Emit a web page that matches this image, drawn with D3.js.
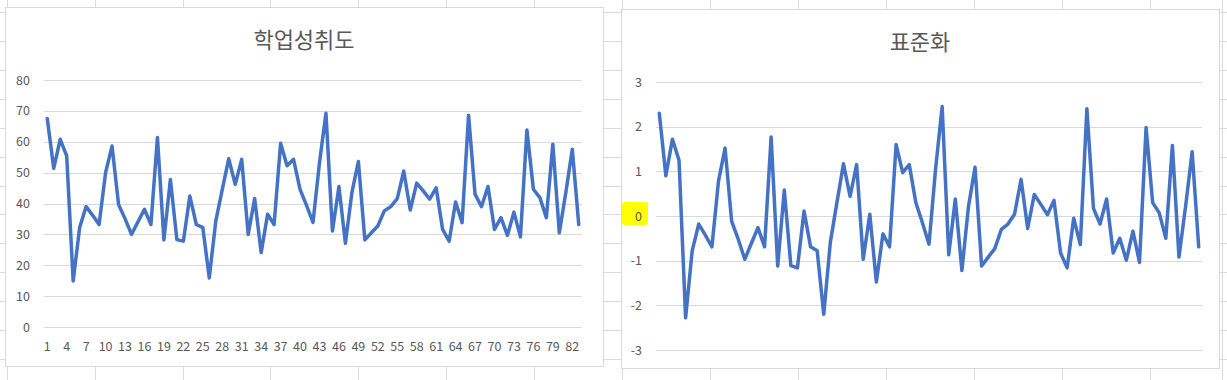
<!DOCTYPE html>
<html>
<head>
<meta charset="utf-8">
<script src="https://cdn.jsdelivr.net/npm/d3@7"></script>
<style>
  html, body { margin: 0; padding: 0; background: #ffffff; }
  svg { display: block; }
  text { font-family: "Noto Sans CJK KR", "Noto Sans", sans-serif; }
</style>
</head>
<body>
<svg id="chart" width="1227" height="380"></svg>
<script>
// ---------- DATA ----------
const categories = [1,2,3,4,5,6,7,8,9,10,11,12,13,14,15,16,17,18,19,20,21,22,23,24,25,26,27,28,29,30,
  31,32,33,34,35,36,37,38,39,40,41,42,43,44,45,46,47,48,49,50,51,52,53,54,55,56,57,58,59,60,
  61,62,63,64,65,66,67,68,69,70,71,72,73,74,75,76,77,78,79,80,81,82,83];

const achievement = [67.5,51.4,60.8,55.4,14.9,32.2,39.0,36.2,33.2,50.0,
  58.6,39.7,35.1,30.0,34.1,38.1,33.2,61.4,28.2,47.8,
  28.3,27.8,42.4,33.2,32.2,15.9,34.3,44.5,54.5,46.2,
  54.3,30.0,41.6,24.1,36.5,33.2,59.5,52.2,54.3,44.6,
  39.4,33.9,53.2,69.2,31.1,45.5,27.1,43.5,53.6,28.2,
  30.5,32.7,37.6,39.0,41.6,50.5,37.9,46.6,44.1,41.4,
  45.1,31.6,27.8,40.5,33.8,68.6,43.0,39.0,45.5,31.6,
  35.4,29.7,37.2,29.2,63.8,44.6,41.9,35.4,59.2,30.5,
  43.5,57.6,33.2];

const standardized = [2.30,0.90,1.72,1.25,-2.28,-0.78,-0.18,-0.43,-0.69,0.78,
  1.52,-0.12,-0.52,-0.97,-0.61,-0.26,-0.69,1.77,-1.12,0.58,
  -1.11,-1.16,0.11,-0.69,-0.78,-2.20,-0.59,0.30,1.17,0.44,
  1.15,-0.97,0.04,-1.48,-0.40,-0.69,1.60,0.97,1.15,0.30,
  -0.15,-0.63,1.05,2.45,-0.87,0.38,-1.22,0.21,1.09,-1.12,
  -0.92,-0.73,-0.30,-0.18,0.04,0.82,-0.28,0.48,0.26,0.03,
  0.35,-0.83,-1.16,-0.05,-0.64,2.40,0.17,-0.18,0.38,-0.83,
  -0.50,-0.99,-0.34,-1.04,1.98,0.30,0.07,-0.50,1.58,-0.92,
  0.21,1.44,-0.69];

const leftTitle = "학업성취도";
const rightTitle = "표준화";
const leftYTicks = [0,10,20,30,40,50,60,70,80];
const rightYTicks = [-3,-2,-1,0,1,2,3];
const xTickLabels = [1,4,7,10,13,16,19,22,25,28,31,34,37,40,43,46,49,52,55,58,61,64,67,70,73,76,79,82];

// ---------- LAYOUT ----------
const svg = d3.select("#chart");
const sheetCols = [7,95,183,270,358,446,534,622,710,798,886,974,1062,1150,1222];
const sheetRow0 = 12, sheetRowStep = 28.92;

// spreadsheet background grid
const bg = svg.append("g");
sheetCols.forEach(x => bg.append("line").attr("x1", x + 0.5).attr("x2", x + 0.5)
  .attr("y1", 0).attr("y2", 380).attr("stroke", "#dadada").attr("stroke-width", 1));
for (let y = sheetRow0; y < 380; y += sheetRowStep) {
  bg.append("line").attr("x1", 0).attr("x2", 1227)
    .attr("y1", Math.round(y) + 0.5).attr("y2", Math.round(y) + 0.5)
    .attr("stroke", "#dadada").attr("stroke-width", 1);
}

function drawChart(cfg) {
  const g = svg.append("g");
  // chart box
  g.append("rect").attr("x", cfg.box[0] + 0.5).attr("y", cfg.box[1] + 0.5)
    .attr("width", cfg.box[2] - cfg.box[0]).attr("height", cfg.box[3] - cfg.box[1])
    .attr("fill", "#ffffff").attr("stroke", "#d9d9d9").attr("stroke-width", 1);

  if (cfg.highlight) {
    const h = cfg.highlight;
    g.append("rect").attr("x", h[0]).attr("y", h[1]).attr("width", h[2]).attr("height", h[3])
      .attr("rx", 3).attr("fill", "#ffff00");
  }

  const x = d3.scaleBand().domain(categories).range([cfg.plot[0], cfg.plot[1]]);
  const y = d3.scaleLinear().domain(cfg.domain).range([cfg.plot[3], cfg.plot[2]]);
  const cx = d => x(d) + x.bandwidth() / 2;

  // gridlines
  const grid = g.append("g").attr("transform", `translate(${cfg.plot[0]},0)`)
    .call(d3.axisLeft(y).tickValues(cfg.yTicks).tickSize(-(cfg.plot[1] - cfg.plot[0])).tickFormat(""));
  grid.select(".domain").remove();
  grid.selectAll(".tick line").attr("stroke", "#d9d9d9").attr("stroke-width", 1)
    .attr("shape-rendering", "crispEdges");

  // y labels
  const yAx = g.append("g").attr("transform", `translate(${cfg.yLabelX},0)`)
    .call(d3.axisLeft(y).tickValues(cfg.yTicks).tickSize(0).tickPadding(0).tickFormat(d3.format("d")));
  yAx.select(".domain").remove();
  yAx.selectAll("text").attr("font-family", '"Noto Sans CJK KR", "Noto Sans", sans-serif')
    .attr("font-size", 12.5).attr("fill", "#595959")
    .text(d => d < 0 ? "-" + Math.abs(d) : String(d));

  // x labels
  if (cfg.xLabels) {
    const xAx = g.append("g").attr("transform", `translate(0,${cfg.xLabelY})`)
      .call(d3.axisBottom(x).tickValues(xTickLabels).tickSize(0).tickPadding(0));
    xAx.select(".domain").remove();
    xAx.selectAll("text").attr("font-family", '"Noto Sans CJK KR", "Noto Sans", sans-serif')
      .attr("font-size", 12.5).attr("fill", "#595959").attr("dy", "0.32em").attr("y", 0);
  }

  // line
  g.append("path").datum(cfg.values.map((v, i) => [categories[i], v]))
    .attr("fill", "none").attr("stroke", "#4472c4").attr("stroke-width", 3.5)
    .attr("stroke-linejoin", "round").attr("stroke-linecap", "round")
    .attr("d", d3.line().x(d => cx(d[0])).y(d => y(d[1])));

  // title
  g.append("text").attr("x", (cfg.box[0] + cfg.box[2]) / 2).attr("y", cfg.titleY)
    .attr("text-anchor", "middle").attr("font-size", 22).attr("fill", "#595959")
    .text(cfg.title);
}

drawChart({
  box: [5, 7, 603, 366],
  plot: [44, 582, 80, 327],
  domain: [0, 80],
  yTicks: leftYTicks,
  yLabelX: 30,
  xLabels: true,
  xLabelY: 347,
  values: achievement,
  title: leftTitle,
  titleY: 48
});

drawChart({
  box: [621, 9, 1219, 368],
  plot: [656, 1202, 82, 350],
  domain: [-3, 3],
  yTicks: rightYTicks,
  yLabelX: 642,
  xLabels: false,
  values: standardized,
  title: rightTitle,
  titleY: 50,
  highlight: [622, 202, 26, 23]
});
</script>
</body>
</html>
